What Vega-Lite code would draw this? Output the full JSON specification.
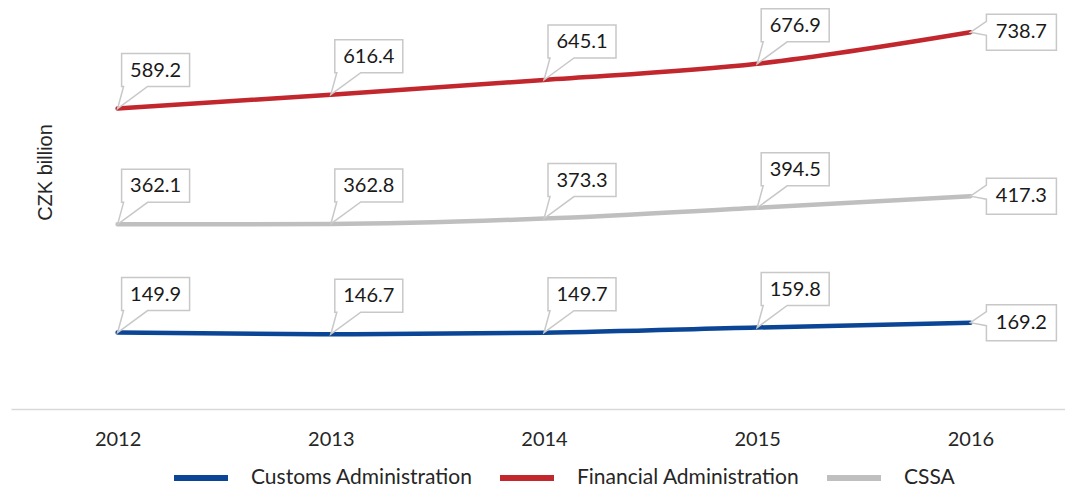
{
  "$schema": "https://vega.github.io/schema/vega-lite/v6.json",
  "width": 1066,
  "height": 408,
  "autosize": {"type": "none"},
  "padding": {"left": 11, "top": 1, "right": 0, "bottom": 78},
  "background": "white",
  "config": {"view": {"stroke": null}},
  "data": {
    "values": [
      {"year": "2012", "series": "Customs Administration", "value": 149.9},
      {"year": "2013", "series": "Customs Administration", "value": 146.7},
      {"year": "2014", "series": "Customs Administration", "value": 149.7},
      {"year": "2015", "series": "Customs Administration", "value": 159.8},
      {"year": "2016", "series": "Customs Administration", "value": 169.2},
      {"year": "2012", "series": "Financial Administration", "value": 589.2},
      {"year": "2013", "series": "Financial Administration", "value": 616.4},
      {"year": "2014", "series": "Financial Administration", "value": 645.1},
      {"year": "2015", "series": "Financial Administration", "value": 676.9},
      {"year": "2016", "series": "Financial Administration", "value": 738.7},
      {"year": "2012", "series": "CSSA", "value": 362.1},
      {"year": "2013", "series": "CSSA", "value": 362.8},
      {"year": "2014", "series": "CSSA", "value": 373.3},
      {"year": "2015", "series": "CSSA", "value": 394.5},
      {"year": "2016", "series": "CSSA", "value": 417.3}
    ]
  },
  "encoding": {
    "x": {
      "field": "year",
      "type": "ordinal",
      "scale": {"type": "point", "padding": 0.5},
      "axis": {
        "title": null,
        "labelAngle": 0,
        "ticks": false,
        "labelPadding": 20,
        "labelFont": "Lato",
        "labelFontSize": 20,
        "labelColor": "#262626",
        "domainColor": "#d9d9d9",
        "domainWidth": 1.5,
        "grid": false
      }
    },
    "y": {
      "field": "value",
      "type": "quantitative",
      "scale": {"domain": [0, 800], "nice": false, "zero": true},
      "axis": {
        "title": "CZK billion",
        "domain": false,
        "ticks": false,
        "labels": false,
        "grid": false,
        "titleX": 34,
        "titleY": 171,
        "titleAngle": 270,
        "titleAlign": "center",
        "titleBaseline": "middle",
        "titleFont": "Liberation Sans",
        "titleFontSize": 20,
        "titleFontWeight": "normal",
        "titleColor": "#262626"
      }
    }
  },
  "layer": [
    {
      "mark": {"type": "line", "strokeWidth": 4.5, "interpolate": "monotone", "strokeCap": "round"},
      "encoding": {
        "color": {
          "field": "series",
          "type": "nominal",
          "scale": {
            "domain": ["Customs Administration", "Financial Administration", "CSSA"],
            "range": ["#0b4595", "#c1272d", "#bfbfbf"]
          },
          "legend": {
            "title": null,
            "orient": "none",
            "direction": "horizontal",
            "legendX": 160,
            "legendY": 447,
            "symbolType": "stroke",
            "symbolSize": 2916,
            "symbolStrokeWidth": 6,
            "labelFont": "Lato",
            "labelFontSize": 21,
            "labelColor": "#262626",
            "labelOffset": 20,
            "columnPadding": 15,
            "labelLimit": 400
          }
        }
      }
    },
    {
      "transform": [{"filter": "datum.year != '2016'"}],
      "mark": {
        "type": "point",
        "shape": "M0,0 L6,-22 L4,-22 L4,-55 L72,-55 L72,-22 L30,-22 Z",
        "size": 4,
        "filled": true,
        "fill": "white",
        "stroke": "#c8c8c8",
        "strokeWidth": 1.5,
        "opacity": 1
      }
    },
    {
      "transform": [{"filter": "datum.year == '2016'"}],
      "mark": {
        "type": "point",
        "shape": "M0,0 L16,-11 L16,-18 L86,-18 L86,18 L16,18 L16,3 Z",
        "size": 4,
        "filled": true,
        "fill": "white",
        "stroke": "#c8c8c8",
        "strokeWidth": 1.5,
        "opacity": 1
      }
    },
    {
      "transform": [{"filter": "datum.year != '2016'"}],
      "mark": {"type": "text", "dx": 38, "dy": -38, "font": "Lato", "fontSize": 20, "color": "#1a1a1a", "align": "center", "baseline": "middle"},
      "encoding": {"text": {"field": "value", "type": "quantitative", "format": ".1f"}}
    },
    {
      "transform": [{"filter": "datum.year == '2016'"}],
      "mark": {"type": "text", "dx": 51, "dy": 0, "font": "Lato", "fontSize": 20, "color": "#1a1a1a", "align": "center", "baseline": "middle"},
      "encoding": {"text": {"field": "value", "type": "quantitative", "format": ".1f"}}
    }
  ]
}
